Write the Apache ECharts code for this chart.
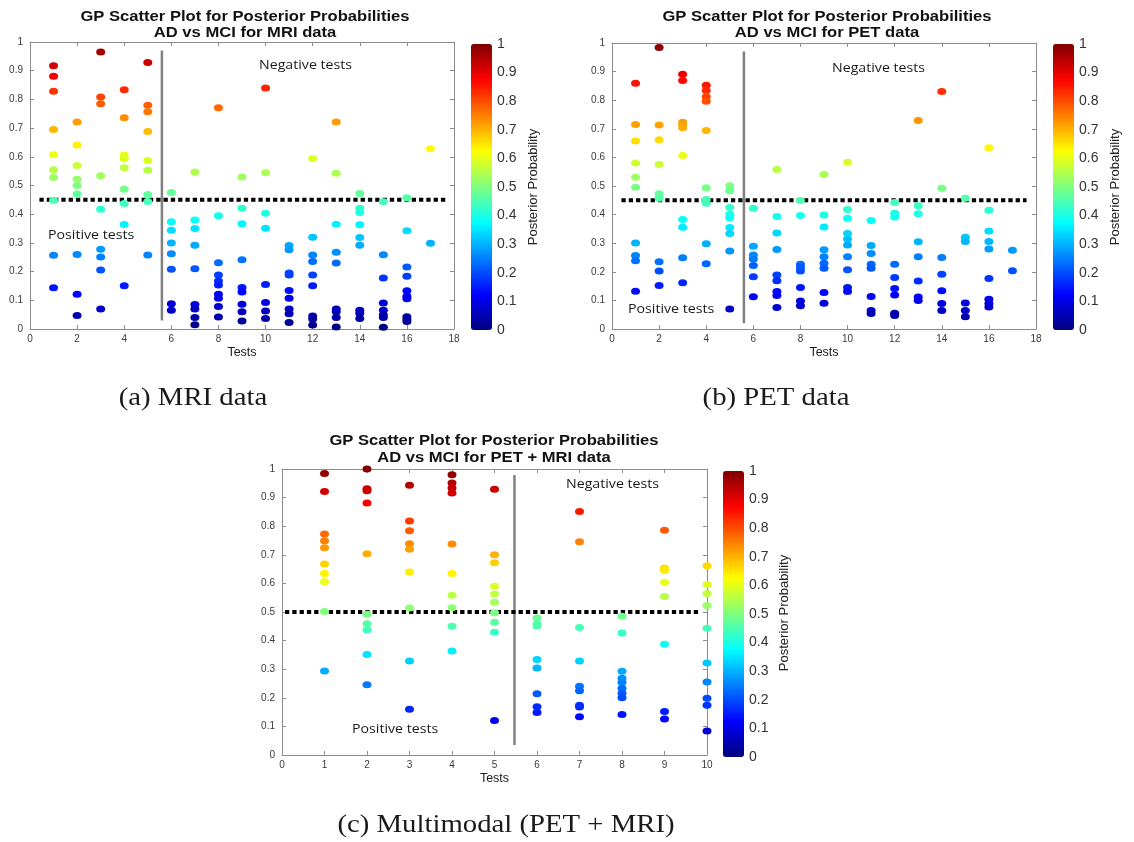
<!DOCTYPE html>
<html>
<head>
<meta charset="utf-8">
<script src="https://cdn.jsdelivr.net/npm/echarts@6/dist/echarts.min.js"></script>
<style>
  html, body { margin: 0; padding: 0; background: #ffffff; }
  #chart { width: 1134px; height: 842px; }
</style>
</head>
<body>
<div id="chart"></div>
<script>
// ---- Posterior probabilities per test, AD vs MCI, MRI data ----
const mriTests = [1, 2, 3, 4, 5, 6, 7, 8, 9, 10, 11, 12, 13, 14, 15, 16, 17];
const mriProbabilities = [
  [0.917, 0.881, 0.828, 0.695, 0.607, 0.555, 0.528, 0.449, 0.257, 0.144],
  [0.721, 0.641, 0.570, 0.522, 0.500, 0.470, 0.260, 0.121, 0.047],
  [0.965, 0.808, 0.785, 0.534, 0.417, 0.278, 0.251, 0.206, 0.070],
  [0.834, 0.736, 0.606, 0.593, 0.562, 0.487, 0.437, 0.364, 0.151],
  [0.929, 0.780, 0.757, 0.688, 0.587, 0.553, 0.469, 0.444, 0.258],
  [0.476, 0.374, 0.344, 0.300, 0.262, 0.208, 0.088, 0.065],
  [0.547, 0.380, 0.350, 0.292, 0.210, 0.085, 0.070, 0.040, 0.015],
  [0.771, 0.395, 0.231, 0.188, 0.167, 0.153, 0.121, 0.107, 0.078, 0.042],
  [0.530, 0.421, 0.367, 0.241, 0.145, 0.129, 0.086, 0.060, 0.028],
  [0.840, 0.544, 0.403, 0.351, 0.155, 0.092, 0.063, 0.037],
  [0.291, 0.276, 0.195, 0.188, 0.134, 0.107, 0.070, 0.053, 0.023],
  [0.594, 0.320, 0.258, 0.235, 0.188, 0.151, 0.045, 0.035, 0.014],
  [0.721, 0.543, 0.365, 0.267, 0.230, 0.070, 0.060, 0.040, 0.007],
  [0.472, 0.421, 0.406, 0.363, 0.319, 0.292, 0.065, 0.055, 0.037],
  [0.443, 0.259, 0.178, 0.091, 0.065, 0.049, 0.040, 0.006],
  [0.457, 0.342, 0.216, 0.184, 0.133, 0.114, 0.105, 0.043, 0.034, 0.026],
  [0.628, 0.299]
];
const mriThresholdLine = [[0.4, 0.45], [17.7, 0.45]];
const mriDivider = [[5.6, 0.03], [5.6, 0.97]];

// ---- Posterior probabilities per test, AD vs MCI, PET data ----
const petTests = [1, 2, 3, 4, 5, 6, 7, 8, 9, 10, 11, 12, 13, 14, 15, 16, 17];
const petProbabilities = [
  [0.859, 0.715, 0.657, 0.580, 0.531, 0.496, 0.301, 0.257, 0.239, 0.132],
  [0.984, 0.713, 0.662, 0.575, 0.473, 0.457, 0.235, 0.203, 0.152],
  [0.891, 0.869, 0.723, 0.714, 0.704, 0.607, 0.383, 0.356, 0.249, 0.162],
  [0.852, 0.834, 0.812, 0.796, 0.694, 0.494, 0.453, 0.440, 0.298, 0.228],
  [0.501, 0.483, 0.425, 0.401, 0.389, 0.355, 0.334, 0.273, 0.070],
  [0.422, 0.289, 0.259, 0.245, 0.222, 0.183, 0.113],
  [0.558, 0.393, 0.336, 0.278, 0.189, 0.169, 0.131, 0.117, 0.075],
  [0.449, 0.397, 0.226, 0.215, 0.203, 0.145, 0.098, 0.081],
  [0.541, 0.399, 0.357, 0.277, 0.253, 0.230, 0.212, 0.128, 0.090],
  [0.583, 0.418, 0.387, 0.334, 0.315, 0.294, 0.253, 0.207, 0.145, 0.131],
  [0.379, 0.292, 0.264, 0.226, 0.212, 0.114, 0.065, 0.054],
  [0.442, 0.405, 0.392, 0.226, 0.180, 0.142, 0.119, 0.055, 0.047],
  [0.729, 0.431, 0.403, 0.305, 0.253, 0.168, 0.112, 0.100],
  [0.830, 0.492, 0.250, 0.191, 0.134, 0.089, 0.065],
  [0.457, 0.321, 0.306, 0.091, 0.065, 0.043],
  [0.634, 0.415, 0.343, 0.306, 0.280, 0.177, 0.104, 0.089, 0.077],
  [0.275, 0.204]
];
const petThresholdLine = [[0.4, 0.45], [17.6, 0.45]];
const petDivider = [[5.6, 0.02], [5.6, 0.97]];

// ---- Posterior probabilities per test, AD vs MCI, PET + MRI data ----
const multiTests = [1, 2, 3, 4, 5, 6, 7, 8, 9, 10];
const multiProbabilities = [
  [0.984, 0.921, 0.773, 0.749, 0.725, 0.668, 0.635, 0.606, 0.502, 0.294],
  [1.000, 0.931, 0.924, 0.881, 0.704, 0.492, 0.459, 0.437, 0.351, 0.246],
  [0.943, 0.818, 0.784, 0.739, 0.719, 0.640, 0.514, 0.329, 0.160],
  [0.980, 0.951, 0.934, 0.916, 0.738, 0.635, 0.559, 0.515, 0.450, 0.364],
  [0.929, 0.700, 0.672, 0.590, 0.563, 0.534, 0.497, 0.464, 0.429, 0.121],
  [0.479, 0.458, 0.451, 0.334, 0.304, 0.214, 0.169, 0.149],
  [0.851, 0.746, 0.446, 0.329, 0.240, 0.225, 0.174, 0.168, 0.134],
  [0.485, 0.427, 0.293, 0.268, 0.254, 0.233, 0.216, 0.200, 0.142],
  [0.786, 0.654, 0.645, 0.604, 0.554, 0.387, 0.152, 0.126],
  [0.662, 0.596, 0.565, 0.523, 0.443, 0.322, 0.255, 0.198, 0.174, 0.084]
];
const multiThresholdLine = [[0.07, 0.5], [9.85, 0.5]];
const multiDivider = [[5.47, 0.035], [5.47, 0.979]];

// MATLAB "jet" colormap stops
const jet = ['#00007f', '#0000ff', '#007fff', '#00ffff', '#7fff7f',
             '#ffff00', '#ff7f00', '#ff0000', '#7f0000'];

function toPoints(tests, probs) {
  const pts = [];
  tests.forEach((t, i) => probs[i].forEach(p => pts.push([t, p])));
  return pts;
}

const FRAME = '#8c8c8c';
const LABEL = '#3a3a3a';
const SANS = 'Liberation Sans, Arial, sans-serif';

const panels = [
  { grid: { left: 30, top: 42, width: 424, height: 287 }, xMax: 18, xInterval: 2,
    points: toPoints(mriTests, mriProbabilities), threshold: mriThresholdLine, divider: mriDivider,
    bar: { left: 471, top: 44, width: 21, height: 286 } },
  { grid: { left: 612, top: 43, width: 424, height: 286 }, xMax: 18, xInterval: 2,
    points: toPoints(petTests, petProbabilities), threshold: petThresholdLine, divider: petDivider,
    bar: { left: 1053, top: 44, width: 21, height: 286 } },
  { grid: { left: 282, top: 469, width: 425, height: 286 }, xMax: 10, xInterval: 1,
    points: toPoints(multiTests, multiProbabilities), threshold: multiThresholdLine, divider: multiDivider,
    bar: { left: 723, top: 471, width: 21, height: 286 } }
];

const grid = [], xAxis = [], yAxis = [], series = [], visualMap = [];
const probFmt = v => (v === 0 ? '0' : v === 1 ? '1' : v.toFixed(1));

panels.forEach((p, k) => {
  grid.push(Object.assign({ containLabel: false }, p.grid));
  const gi = grid.length - 1;
  const base = {
    gridIndex: gi, type: 'value', splitLine: { show: false },
    axisLine: { show: true, onZero: false, lineStyle: { color: FRAME, width: 1 } },
    axisTick: { show: true, inside: true, length: 4, lineStyle: { color: FRAME } }
  };
  xAxis.push(Object.assign({}, base, {
    position: 'bottom', min: 0, max: p.xMax, interval: p.xInterval,
    axisLabel: { color: LABEL, fontSize: 10, margin: 5, fontFamily: SANS },
    name: 'Tests', nameLocation: 'middle', nameGap: 17,
    nameTextStyle: { color: '#1a1a1a', fontSize: 12.5, fontFamily: SANS }
  }));
  const xi = xAxis.length - 1;
  xAxis.push(Object.assign({}, base, {
    position: 'top', min: 0, max: p.xMax, interval: p.xInterval, axisLabel: { show: false }
  }));
  yAxis.push(Object.assign({}, base, {
    position: 'left', min: 0, max: 1, interval: 0.1,
    axisLabel: { color: LABEL, fontSize: 10, margin: 7, fontFamily: SANS, formatter: probFmt }
  }));
  const yi = yAxis.length - 1;
  yAxis.push(Object.assign({}, base, {
    position: 'right', min: 0, max: 1, interval: 0.1, axisLabel: { show: false }
  }));

  series.push({
    type: 'scatter', name: 'panel' + k, xAxisIndex: xi, yAxisIndex: yi,
    symbol: 'circle', symbolSize: [9, 7], data: p.points, z: 3,
    itemStyle: { opacity: 1 }
  });
  series.push({
    type: 'line', xAxisIndex: xi, yAxisIndex: yi, data: p.divider, symbol: 'none',
    lineStyle: { color: '#808080', width: 2.5 }, z: 2, silent: true
  });
  series.push({
    type: 'line', xAxisIndex: xi, yAxisIndex: yi, data: p.threshold, symbol: 'none',
    lineStyle: { color: '#000000', width: 4, type: [4.3, 3], cap: 'butt' }, z: 2, silent: true
  });

  visualMap.push({
    type: 'continuous', min: 0, max: 1, dimension: 1, seriesIndex: k * 3,
    inRange: { color: jet }, calculable: false, show: true, text: null,
    left: p.bar.left, top: p.bar.top, itemWidth: p.bar.width, itemHeight: p.bar.height,
    padding: 0, hoverLink: false
  });
});

// colour bar tick labels
panels.forEach(p => {
  grid.push({ left: p.bar.left, top: p.bar.top, width: p.bar.width, height: p.bar.height });
  const gi = grid.length - 1;
  xAxis.push({ gridIndex: gi, type: 'value', min: 0, max: 1, show: false });
  yAxis.push({
    gridIndex: gi, type: 'value', position: 'right', min: 0, max: 1, interval: 0.1, z: 10,
    splitLine: { show: false }, axisLine: { show: false }, axisTick: { show: false },
    axisLabel: { color: '#333', fontSize: 14, margin: 5, fontFamily: SANS, formatter: probFmt }
  });
});

function txt(x, y, text, style, extra) {
  return Object.assign({
    type: 'text', x: x, y: y, silent: true,
    style: Object.assign({ text: text, fill: '#111', fontFamily: SANS }, style)
  }, extra || {});
}
const titleStyle = { fontSize: 14, fontWeight: 'bold', textAlign: 'center', textVerticalAlign: 'middle' };
const wide = { scaleX: 1.185 };
const noteStyle = { fontSize: 13, fontFamily: 'Open Sans, sans-serif', fill: '#1a1a1a', textVerticalAlign: 'middle' };
const noteWide = { scaleX: 1.09 };
const capStyle = { fontSize: 25, fontFamily: 'Liberation Serif, serif', fill: '#1a1a1a', textAlign: 'center', textVerticalAlign: 'middle' };
const capWide = { scaleX: 1.15 };
const barNameStyle = { fontSize: 13, fontFamily: SANS, fill: '#222', textAlign: 'center', textVerticalAlign: 'middle' };

const graphic = [
  txt(245, 17, 'GP Scatter Plot for Posterior Probabilities', titleStyle, wide),
  txt(245, 33, 'AD vs MCI for MRI data', titleStyle, wide),
  txt(827, 17, 'GP Scatter Plot for Posterior Probabilities', titleStyle, wide),
  txt(827, 33, 'AD vs MCI for PET data', titleStyle, wide),
  txt(494, 441, 'GP Scatter Plot for Posterior Probabilities', titleStyle, wide),
  txt(494, 458, 'AD vs MCI for PET + MRI data', titleStyle, wide),

  txt(259, 65, 'Negative tests', noteStyle, noteWide),
  txt(48, 235, 'Positive tests', noteStyle, noteWide),
  txt(832, 68, 'Negative tests', noteStyle, noteWide),
  txt(628, 309, 'Positive tests', noteStyle, noteWide),
  txt(566, 484, 'Negative tests', noteStyle, noteWide),
  txt(352, 729, 'Positive tests', noteStyle, noteWide),

  txt(533, 187, 'Posterior Probability', barNameStyle, { rotation: Math.PI / 2 }),
  txt(1115, 187, 'Posterior Probability', barNameStyle, { rotation: Math.PI / 2 }),
  txt(784, 613, 'Posterior Probability', barNameStyle, { rotation: Math.PI / 2 }),

  txt(193, 398, '(a) MRI data', capStyle, capWide),
  txt(776, 398, '(b) PET data', capStyle, capWide),
  txt(506, 825, '(c) Multimodal (PET + MRI)', capStyle, capWide)
];

const chart = echarts.init(document.getElementById('chart'), null, { renderer: 'canvas' });
chart.setOption({
  backgroundColor: '#ffffff',
  animation: false,
  grid: grid, xAxis: xAxis, yAxis: yAxis,
  visualMap: visualMap,
  series: series,
  graphic: graphic
});
</script>
</body>
</html>
